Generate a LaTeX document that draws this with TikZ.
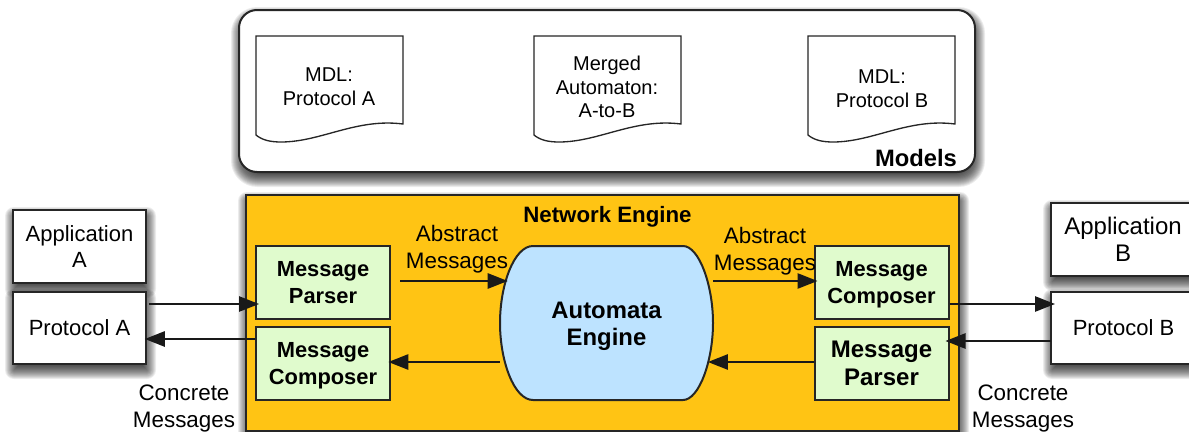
\documentclass[tikz,border=0pt]{standalone}
\usepackage{fontspec}
\setmainfont{Liberation Sans}
\usetikzlibrary{arrows.meta}
\definecolor{orangebg}{HTML}{FFC414}
\definecolor{greenbox}{HTML}{E0FBCD}
\definecolor{bluebox}{HTML}{BDE3FF}
\newcommand{\softshadow}[5]{%
  \foreach \k in {0,...,16}{%
    \pgfmathsetmacro{\g}{9-\k}
    \fill[black,opacity=0.075,rounded corners={#5+max(\g,0)*0.75pt}]
      (#1+1-\g,#2+6-\g) rectangle (#3+1+\g,#4+6+\g);
  }%
}
\tikzset{
  x=0.75pt,y=-0.75pt,
  boxline/.style={draw=black!85,line width=1.5pt},
  plainbox/.style={boxline,fill=white,inner sep=0pt,align=center},
  greenstyle/.style={boxline,fill=greenbox,inner sep=0pt,align=center,font=\fontsize{16.4}{20}\selectfont\bfseries,minimum width=100.5pt,minimum height=54.5pt},
  label/.style={inner sep=0pt,align=center,font=\fontsize{16.5}{20}\selectfont},
  sidelabel/.style={inner sep=0pt,align=center,font=\fontsize{16.8}{20}\selectfont},
  doclabel/.style={inner sep=0pt,align=center,font=\fontsize{15}{17.8}\selectfont},
  arr/.style={draw=black!90,line width=1.2pt,-{Triangle[length=15pt,width=11.5pt]},shorten >=-3pt},
  docline/.style={draw=black!85,line width=1pt,fill=white},
}
\begin{document}
\begin{tikzpicture}
\useasboundingbox (0,0) rectangle (1189,432);
\clip (0,0) rectangle (1189,432);
\fill[white] (0,0) rectangle (1189,432);
% shadows
\softshadow{239}{10}{975}{172}{13pt}
\softshadow{246}{195}{959}{431}{0pt}
\softshadow{13}{210}{146}{283}{0pt}
\softshadow{13}{292}{146}{364}{0pt}
\softshadow{1051}{203}{1205}{276}{0pt}
\softshadow{1051}{292}{1205}{364}{0pt}
% Models
\draw[boxline,fill=white,rounded corners=13.5pt] (239,10) rectangle (975,172);
\node[inner sep=0pt,font=\fontsize{17.8}{20}\selectfont\bfseries] (models) at (916,158) {Models};
% documents
\foreach \xx in {256,534,808}{
  \draw[docline] (\xx,36) -- (\xx+147,36) -- (\xx+147,124)
    .. controls (\xx+100,118) and (\xx+65,142) .. (\xx+25,142)
    .. controls (\xx+14,142) and (\xx+6,140) .. (\xx,135) -- cycle;
}
\node[doclabel] (d1) at (329,87) {MDL:\\Protocol A};
\node[doclabel] (d2) at (607,87) {Merged\\Automaton:\\A-to-B};
\node[doclabel] (d3) at (882,88.5) {MDL:\\Protocol B};
% Engine
\draw[boxline,fill=orangebg] (246,195) rectangle (959,431);
\node[inner sep=0pt,font=\fontsize{16.7}{20}\selectfont\bfseries] (ne) at (607.5,217) {Network Engine};
% side boxes
\node[plainbox,label,minimum width=99.5pt,minimum height=54.5pt] (appa) at (79.5,246.5) {Application\\A};
\node[plainbox,label,minimum width=99.5pt,minimum height=54pt] (pa) at (79.5,328) {Protocol A};
\draw[boxline,fill=white] (1195,203) -- (1051,203) -- (1051,276) -- (1195,276);
\draw[boxline,fill=white] (1195,292) -- (1051,292) -- (1051,364) -- (1195,364);
\node[label,font=\fontsize{18}{20}\selectfont] (appb) at (1123,239) {Application\\B};
\node[label] (pb) at (1123.5,327.5) {Protocol B};
\coordinate (pbw) at (1051,328);
% Message boxes
\node[greenstyle] (mpl) at (323,282.5) {Message\\Parser};
\node[greenstyle] (mcl) at (323,363.5) {\rule{0pt}{5pt}\\[-10.2pt]Message\\Composer};
\node[greenstyle] (mcr) at (881.5,282.5) {\rule{0pt}{5pt}\\[-10.2pt]Message\\Composer};
\node[greenstyle,font=\fontsize{18}{21}\selectfont\bfseries] (mpr) at (881.5,363.5) {Message\\Parser};
% Automata
\draw[boxline,fill=bluebox] (533,246) -- (683,246)
  .. controls (699,246) and (713,285) .. (713,323)
  .. controls (713,361) and (699,400) .. (683,400)
  -- (533,400)
  .. controls (514,400) and (500,361) .. (500,323)
  .. controls (500,285) and (514,246) .. (533,246) -- cycle;
\node[inner sep=0pt,align=center,font=\fontsize{17.9}{20}\selectfont\bfseries,minimum width=159.75pt,minimum height=115.5pt] (auto) at (606.5,323) {\rule{0pt}{5pt}\\[-7.5pt]Automata\\Engine};
% labels
\node[sidelabel] (al) at (457,249) {Abstract\\Messages};
\node[sidelabel] (ar) at (765,251.5) {Abstract\\Messages};
\node[sidelabel] (cl) at (184,408.5) {Concrete\\Messages};
\node[sidelabel] (cr) at (1023,408.5) {Concrete\\Messages};
% arrows
\coordinate (y1) at (0,304);
\coordinate (y2) at (0,339);
\coordinate (y3) at (0,281);
\coordinate (y4) at (0,362);
\coordinate (y5) at (0,341);
\draw[arr] ([xshift=1.5pt]pa.east |- y1) -- (mpl.west |- y1);
\draw[arr] (mcl.west |- y2) -- ([xshift=1.5pt]pa.east |- y2);
\draw[arr] ([xshift=7pt]mpl.east |- y3) -- ([xshift=3pt]auto.west |- y3);
\draw[arr] (auto.west |- y4) -- ([xshift=1pt]mcl.east |- y4);
\draw[arr] (auto.east |- y3) -- (mcr.west |- y3);
\draw[arr] (mpr.west |- y4) -- ([xshift=-1pt]auto.east |- y4);
\draw[arr] (mcr.east |- y1) -- (pbw |- y1);
\draw[arr] (pbw |- y5) -- (mpr.east |- y5);
\end{tikzpicture}
\end{document}
